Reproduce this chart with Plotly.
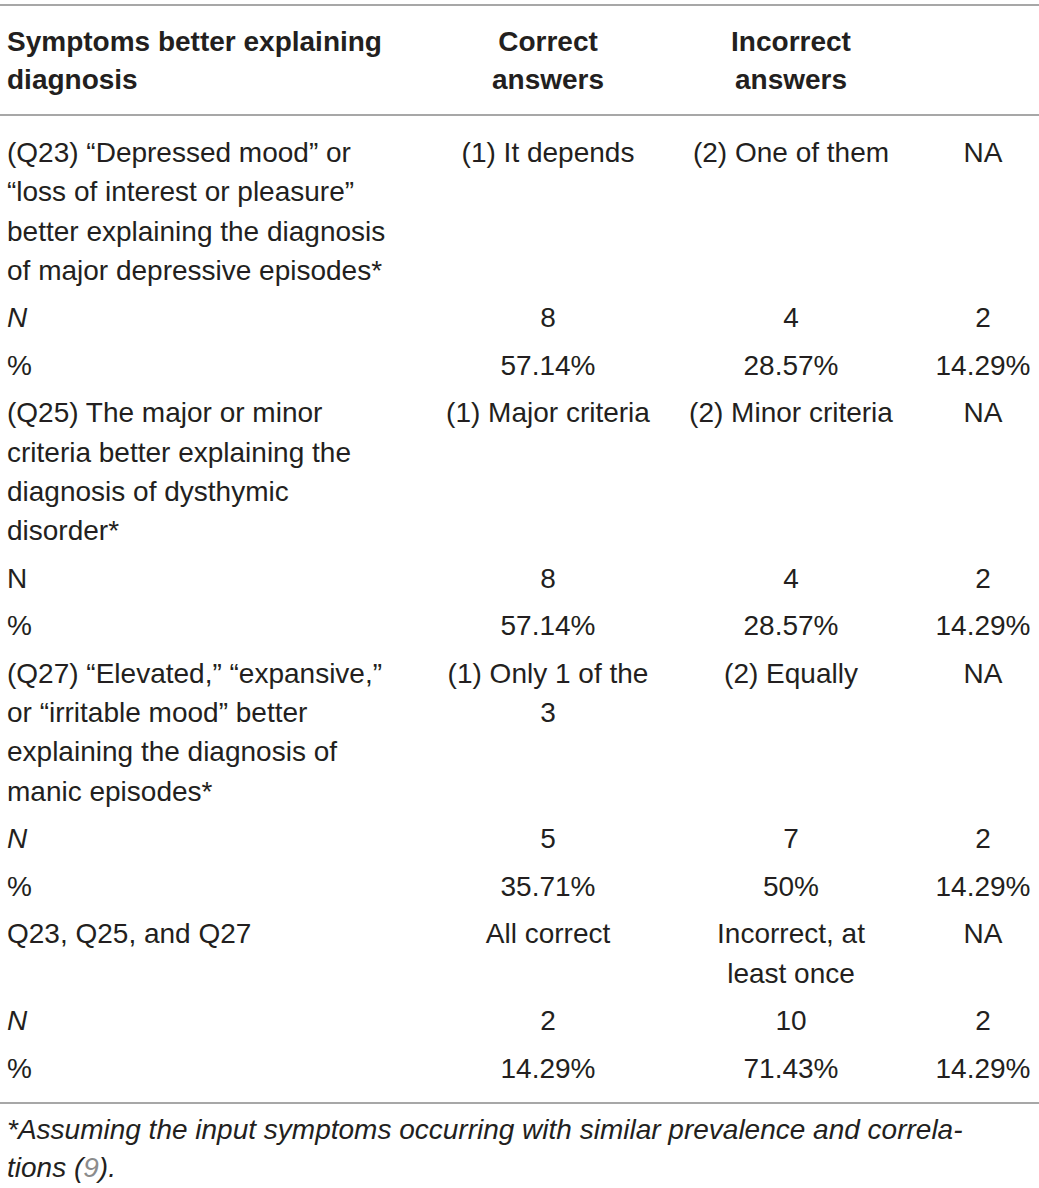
import plotly.graph_objects as go

# table content
header_symptoms = ["Symptoms better explaining", "diagnosis"]
header_correct = ["Correct", "answers"]
header_incorrect = ["Incorrect", "answers"]

questions = [
    ["(Q23) \u201cDepressed mood\u201d or", "\u201closs of interest or pleasure\u201d",
     "better explaining the diagnosis", "of major depressive episodes*"],
    ["(Q25) The major or minor", "criteria better explaining the",
     "diagnosis of dysthymic", "disorder*"],
    ["(Q27) \u201cElevated,\u201d \u201cexpansive,\u201d", "or \u201cirritable mood\u201d better",
     "explaining the diagnosis of", "manic episodes*"],
    ["Q23, Q25, and Q27"],
]
correct_options = [["(1) It depends"], ["(1) Major criteria"], ["(1) Only 1 of the", "3"], ["All correct"]]
incorrect_options = [["(2) One of them"], ["(2) Minor criteria"], ["(2) Equally"], ["Incorrect, at", "least once"]]
na_options = [["NA"], ["NA"], ["NA"], ["NA"]]

n_correct = [8, 8, 5, 2]
n_incorrect = [4, 4, 7, 10]
n_na = [2, 2, 2, 2]
pct_correct = ["57.14%", "57.14%", "35.71%", "14.29%"]
pct_incorrect = ["28.57%", "28.57%", "50%", "71.43%"]
pct_na = ["14.29%", "14.29%", "14.29%", "14.29%"]
n_italic = [True, False, True, True]

footnote = ["*Assuming the input symptoms occurring with similar prevalence and correla-",
            "tions (<span style='color:#8c8c8c'>9</span>)."]

W, H = 1039, 1188
TXT = "#231f20"
RULE = "#8a8a8a"
FONT = "Liberation Sans"
FS = 28

col_x = [7, 548, 791, 983]
pitch = 39.3
gap = 47.5

# build cell rows: (lists of lines per column)
rows = []
for i in range(len(questions)):
    rows.append([questions[i], correct_options[i], incorrect_options[i], na_options[i]])
    rows.append([["<i>N</i>" if n_italic[i] else "N"], [str(n_correct[i])],
                 [str(n_incorrect[i])], [str(n_na[i])]])
    rows.append([["%"], [pct_correct[i]], [pct_incorrect[i]], [pct_na[i]]])

cols = [dict(x=[], y=[], t=[]) for _ in range(4)]
y = 155
for r in rows:
    nlines = max(len(c) for c in r)
    for ci, cell in enumerate(r):
        for li, line in enumerate(cell):
            cols[ci]["x"].append(col_x[ci])
            cols[ci]["y"].append(y + li * pitch)
            cols[ci]["t"].append(line)
    y += (nlines - 1) * pitch + gap

fig = go.Figure()

# header
for ci, hdr in enumerate([header_symptoms, header_correct, header_incorrect]):
    fig.add_trace(go.Scatter(
        x=[col_x[ci]] * len(hdr), y=[44 + k * 38 for k in range(len(hdr))],
        text=["<b>" + h + "</b>" for h in hdr], mode="text",
        textposition="middle right" if ci == 0 else "middle center",
        textfont=dict(family=FONT, size=FS, color=TXT),
        hoverinfo="skip", cliponaxis=False, showlegend=False))

for ci, c in enumerate(cols):
    fig.add_trace(go.Scatter(
        x=c["x"], y=c["y"], text=c["t"], mode="text",
        textposition="middle right" if ci == 0 else "middle center",
        textfont=dict(family=FONT, size=FS, color=TXT),
        hoverinfo="skip", cliponaxis=False, showlegend=False))

fig.add_trace(go.Scatter(
    x=[7, 7], y=[1132, 1170], text=["<i>" + f + "</i>" for f in footnote], mode="text",
    textposition="middle right",
    textfont=dict(family=FONT, size=28, color=TXT),
    hoverinfo="skip", cliponaxis=False, showlegend=False))

for yy in [5, 115, 1103]:
    fig.add_shape(type="line", x0=0, x1=W, y0=yy, y1=yy,
                  line=dict(color=RULE, width=1.5))

fig.update_layout(
    width=W, height=H, margin=dict(l=0, r=0, t=0, b=0),
    paper_bgcolor="white", plot_bgcolor="white",
    xaxis=dict(range=[0, W], visible=False, fixedrange=True),
    yaxis=dict(range=[H, 0], visible=False, fixedrange=True),
)

# drop the default page margin so the figure sits at the window's corner
fig.write_html("out.html", config={"displayModeBar": False},
               post_script="document.body.style.margin='0';document.body.style.overflow='hidden';")
